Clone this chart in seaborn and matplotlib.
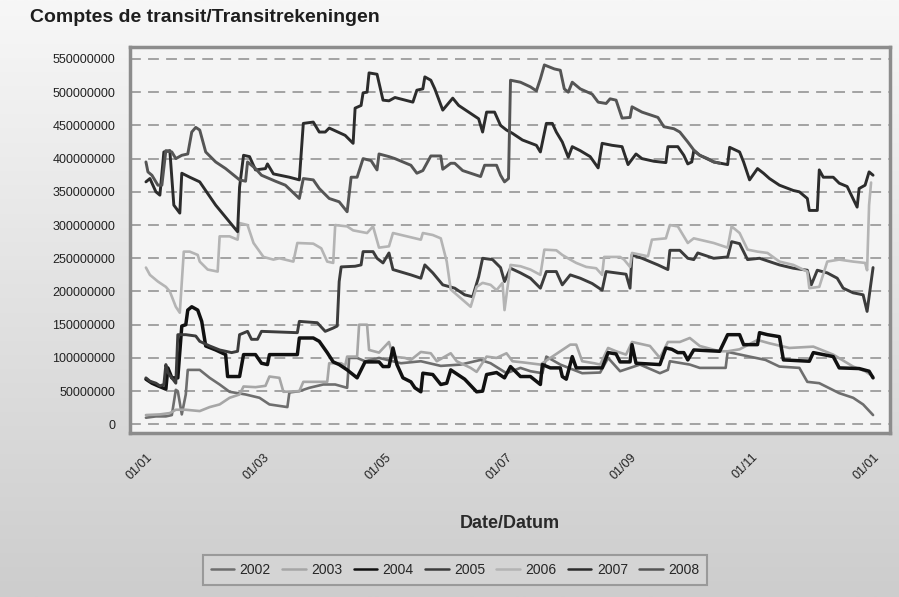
import numpy as np
import pandas as pd
import seaborn as sns
import matplotlib.pyplot as plt
from matplotlib.colors import LinearSegmentedColormap
from matplotlib.lines import Line2D

# day of year / balance in millions
day_2002 = [0, 5, 10, 13, 15, 16, 18, 20, 21, 27, 32, 37, 42, 50, 57, 62, 71, 72, 77, 82, 89, 95, 101, 102, 106, 110, 117, 128, 138, 148, 158, 168, 173, 181, 188, 193, 199, 201, 208, 219, 228, 232, 238, 248, 258, 262, 263, 273, 278, 291, 292, 303, 311, 318, 328, 332, 338, 348, 355, 360, 365]
val_2002 = [10, 12, 12, 14, 52, 50, 15, 45, 82, 82, 70, 60, 49, 45, 40, 30, 26, 48, 50, 55, 60, 60, 55, 100, 100, 95, 100, 92, 95, 88, 90, 97, 92, 77, 85, 80, 77, 102, 90, 77, 78, 100, 80, 90, 77, 82, 95, 90, 85, 85, 109, 102, 97, 87, 85, 64, 62, 47, 40, 30, 14]

day_2003 = [0, 7, 12, 15, 20, 27, 32, 37, 42, 47, 49, 55, 60, 62, 67, 69, 77, 79, 87, 91, 92, 98, 100, 101, 106, 107, 111, 112, 117, 122, 124, 130, 133, 138, 143, 146, 153, 156, 163, 166, 171, 176, 181, 184, 190, 198, 203, 213, 216, 219, 225, 228, 232, 236, 241, 244, 253, 258, 262, 268, 273, 278, 288, 292, 298, 307, 313, 323, 335, 345, 355, 361, 365]
val_2003 = [14, 15, 17, 22, 22, 20, 26, 30, 40, 45, 57, 56, 58, 72, 70, 49, 50, 64, 64, 64, 92, 92, 88, 102, 102, 150, 150, 112, 108, 124, 102, 100, 97, 109, 107, 95, 107, 95, 85, 79, 102, 100, 107, 95, 93, 90, 100, 120, 120, 95, 92, 90, 115, 110, 105, 124, 118, 100, 124, 124, 130, 118, 110, 110, 113, 127, 122, 115, 117, 105, 87, 80, 72]

day_2004 = [0, 3, 6, 10, 11, 13, 16, 18, 20, 21, 23, 26, 28, 30, 35, 40, 41, 47, 49, 55, 58, 61, 62, 76, 77, 84, 87, 91, 94, 97, 101, 106, 110, 117, 119, 122, 124, 126, 129, 133, 135, 138, 139, 144, 148, 151, 153, 155, 160, 166, 169, 171, 176, 180, 183, 188, 193, 198, 199, 203, 208, 209, 211, 214, 216, 229, 232, 236, 238, 243, 244, 246, 258, 261, 264, 267, 270, 272, 275, 288, 292, 298, 300, 307, 308, 312, 318, 320, 333, 335, 345, 348, 358, 363, 365]
val_2004 = [68, 62, 58, 53, 85, 70, 70, 148, 150, 172, 177, 172, 155, 118, 112, 105, 72, 72, 105, 105, 92, 90, 105, 105, 130, 130, 125, 108, 94, 90, 82, 70, 94, 94, 87, 87, 115, 90, 70, 64, 55, 49, 77, 75, 60, 62, 82, 78, 68, 49, 50, 75, 78, 70, 87, 72, 72, 60, 90, 85, 85, 72, 68, 102, 85, 85, 108, 106, 94, 94, 120, 92, 90, 115, 113, 108, 108, 97, 112, 110, 135, 135, 120, 120, 138, 135, 132, 97, 95, 108, 102, 85, 84, 80, 70]

day_2005 = [0, 2, 5, 7, 9, 10, 11, 13, 15, 16, 20, 25, 27, 32, 37, 43, 46, 47, 51, 53, 56, 58, 76, 77, 86, 90, 94, 96, 97, 98, 105, 108, 109, 114, 116, 119, 122, 124, 133, 138, 140, 144, 149, 155, 160, 164, 167, 169, 174, 178, 180, 183, 188, 193, 198, 201, 206, 209, 213, 218, 224, 229, 231, 236, 241, 243, 244, 249, 257, 262, 263, 268, 272, 275, 277, 285, 292, 294, 298, 302, 308, 313, 318, 325, 332, 334, 337, 342, 347, 350, 355, 360, 362, 365]
val_2005 = [70, 65, 62, 58, 60, 90, 78, 70, 62, 135, 135, 133, 125, 118, 112, 108, 110, 135, 140, 128, 128, 140, 138, 155, 153, 140, 145, 148, 215, 237, 238, 240, 260, 260, 250, 243, 258, 233, 225, 220, 240, 228, 210, 205, 195, 192, 222, 250, 248, 236, 215, 235, 228, 220, 205, 230, 230, 210, 225, 220, 212, 202, 230, 228, 226, 205, 255, 250, 240, 233, 262, 262, 250, 248, 258, 250, 252, 275, 272, 248, 250, 245, 240, 235, 232, 210, 232, 228, 220, 205, 198, 195, 170, 236]

day_2006 = [0, 2, 6, 10, 12, 15, 17, 19, 22, 26, 27, 31, 36, 37, 42, 46, 47, 51, 54, 59, 64, 67, 74, 76, 84, 88, 91, 94, 95, 101, 104, 111, 114, 117, 122, 124, 131, 138, 139, 144, 148, 151, 153, 158, 163, 166, 169, 173, 176, 179, 180, 183, 188, 193, 198, 200, 206, 209, 213, 216, 221, 226, 229, 230, 238, 240, 243, 244, 252, 254, 261, 263, 267, 272, 275, 285, 292, 294, 298, 302, 307, 312, 318, 325, 332, 333, 338, 342, 348, 355, 361, 362, 363, 364]
val_2006 = [236, 225, 215, 207, 200, 177, 168, 260, 260, 255, 245, 233, 230, 283, 283, 278, 303, 300, 273, 252, 248, 250, 245, 273, 272, 265, 245, 243, 300, 298, 292, 288, 298, 266, 268, 288, 283, 278, 288, 285, 280, 245, 203, 190, 177, 207, 213, 210, 202, 213, 172, 240, 238, 233, 225, 263, 262, 255, 248, 243, 237, 235, 225, 252, 252, 248, 237, 258, 253, 278, 280, 300, 298, 273, 280, 273, 266, 298, 288, 263, 260, 258, 245, 240, 230, 205, 207, 245, 248, 245, 243, 232, 330, 364]

day_2007 = [0, 2, 5, 7, 9, 12, 14, 17, 18, 22, 27, 35, 46, 47, 49, 52, 55, 60, 61, 64, 72, 77, 79, 84, 87, 90, 92, 100, 104, 105, 108, 109, 111, 112, 116, 119, 122, 125, 134, 136, 139, 140, 143, 145, 149, 154, 157, 162, 167, 169, 171, 175, 178, 181, 184, 189, 196, 198, 201, 204, 206, 209, 212, 214, 218, 223, 227, 229, 234, 239, 242, 246, 249, 255, 261, 262, 267, 270, 272, 274, 275, 278, 285, 292, 293, 298, 300, 303, 307, 310, 313, 318, 325, 328, 332, 333, 337, 338, 340, 345, 348, 352, 357, 358, 361, 363, 365]
val_2007 = [365, 370, 350, 345, 410, 412, 330, 318, 378, 372, 365, 330, 290, 357, 405, 403, 383, 385, 392, 377, 372, 368, 453, 455, 440, 440, 446, 435, 423, 476, 480, 499, 500, 529, 527, 488, 487, 492, 485, 503, 505, 523, 518, 505, 473, 491, 480, 470, 460, 440, 470, 470, 450, 443, 438, 428, 420, 410, 453, 453, 440, 425, 402, 418, 412, 403, 386, 423, 420, 418, 391, 407, 400, 396, 394, 418, 418, 405, 392, 395, 412, 405, 395, 391, 417, 410, 395, 368, 385, 378, 370, 360, 352, 350, 340, 322, 322, 383, 372, 372, 363, 358, 327, 355, 360, 380, 375]

day_2008 = [0, 1, 3, 6, 8, 10, 13, 15, 18, 21, 23, 25, 27, 30, 35, 40, 47, 50, 51, 55, 58, 65, 70, 77, 79, 84, 87, 92, 97, 101, 103, 106, 109, 113, 116, 117, 122, 125, 133, 136, 139, 143, 148, 149, 153, 155, 159, 163, 168, 170, 176, 178, 180, 182, 183, 188, 193, 196, 198, 200, 205, 208, 210, 212, 214, 218, 224, 227, 231, 233, 236, 239, 243, 244, 249, 257, 260, 265, 268, 272, 275, 278, 282, 285, 288]
val_2008 = [395, 380, 375, 360, 360, 412, 410, 400, 405, 407, 440, 447, 443, 410, 395, 385, 368, 366, 395, 385, 375, 366, 360, 340, 370, 368, 355, 340, 335, 320, 372, 372, 400, 397, 383, 407, 403, 400, 390, 378, 382, 404, 404, 384, 393, 393, 382, 378, 373, 390, 390, 375, 365, 370, 518, 515, 508, 502, 520, 541, 535, 533, 505, 500, 515, 505, 497, 485, 483, 490, 488, 461, 462, 478, 470, 462, 448, 445, 440, 425, 413, 405, 400, 395, 393]

years = ['2002', '2003', '2004', '2005', '2006', '2007', '2008']
days = [day_2002, day_2003, day_2004, day_2005, day_2006, day_2007, day_2008]
vals = [val_2002, val_2003, val_2004, val_2005, val_2006, val_2007, val_2008]
colors = ['#6e6e6e', '#a6a6a6', '#111111', '#3c3c3c', '#b4b4b4', '#2c2c2c', '#555555']
widths = [1.9, 1.9, 2.5, 2.1, 1.9, 2.1, 2.1]

month_ticks = [0, 59, 120, 181, 243, 304, 365]
month_labels = ['01/01', '01/03', '01/05', '01/07', '01/09', '01/11', '01/01']

frames = []
for y, d, v in zip(years, days, vals):
    frames.append(pd.DataFrame({'day': d, 'value': np.array(v) * 1e6, 'year': y}))
df = pd.concat(frames, ignore_index=True)

sns.set_style('white')
plt.rcParams['font.family'] = ['Liberation Sans', 'DejaVu Sans']

fig = plt.figure(figsize=(8.99, 5.97), dpi=100)

# grey gradient background
bg = fig.add_axes([0, 0, 1, 1], zorder=-10)
cmap = LinearSegmentedColormap.from_list('bg', ['#f7f7f7', '#cdcdcd'])
bg.imshow(np.linspace(0, 1, 256).reshape(-1, 1), cmap=cmap, aspect='auto',
          extent=[0, 1, 0, 1])
bg.axis('off')

ax = fig.add_axes([130 / 899, 1 - 433 / 597, 760 / 899, 386 / 597])
ax.set_facecolor('#f4f4f4')

for y, c, w in zip(years, colors, widths):
    sns.lineplot(data=df[df['year'] == y], x='day', y='value', color=c,
                 linewidth=w, estimator=None, sort=False, ax=ax)

ax.set_xlim(-8, 373.5)
ax.set_ylim(-13e6, 568e6)
ax.set_yticks(np.arange(0, 550e6 + 1, 50e6))
ax.set_yticklabels([str(int(t)) for t in np.arange(0, 550e6 + 1, 50e6)])
ax.set_xticks(month_ticks)
ax.set_xticklabels(month_labels, rotation=45, ha='right', rotation_mode='anchor')
ax.yaxis.grid(True, linestyle=(0, (6, 4)), color='#9c9c9c', linewidth=1.3)
ax.set_axisbelow(True)
ax.set_xlabel('')
ax.set_ylabel('')
for s in ax.spines.values():
    s.set_color('#8c8c8c')
    s.set_linewidth(2.5)
ax.tick_params(axis='both', direction='out', length=7, width=2.2, color='#8c8c8c',
               labelsize=9, labelcolor='#222222')
ax.tick_params(axis='x', pad=6)

fig.text(30 / 899, 1 - 18 / 597, 'Comptes de transit/Transitrekeningen',
         fontsize=14, fontweight='bold', color='#1e1e1e', va='center', ha='left',
         family=['Liberation Sans Narrow', 'Liberation Sans', 'DejaVu Sans'])
fig.text(510 / 899, 1 - 523 / 597, 'Date/Datum', fontsize=13, fontweight='bold',
         color='#2a2a2a', va='center', ha='center',
         family=['Liberation Sans Narrow', 'Liberation Sans', 'DejaVu Sans'])

handles = [Line2D([0], [0], color=c, linewidth=1.8) for c in colors]
leg = fig.legend(handles, years, loc='center', bbox_to_anchor=(455 / 899, 1 - 570 / 597),
                 ncol=7, frameon=True, fancybox=False, fontsize=10,
                 handlelength=1.7, handletextpad=0.4, columnspacing=0.8,
                 borderpad=0.55)
leg.get_frame().set_edgecolor('#8c8c8c')
leg.get_frame().set_linewidth(1.5)
leg.get_frame().set_facecolor('#d6d6d6')

fig.savefig('out.png', dpi=100)
